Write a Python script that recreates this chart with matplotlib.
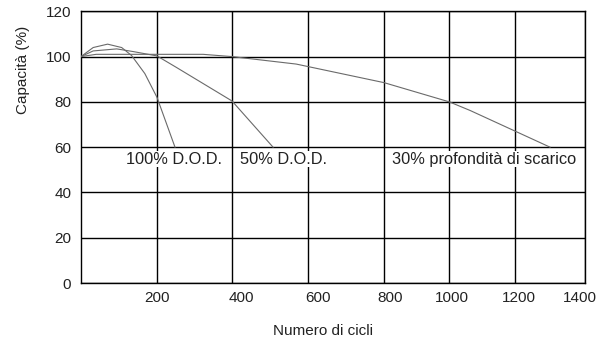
import numpy as np
import matplotlib
matplotlib.use("Agg")
import matplotlib.pyplot as plt
from matplotlib.transforms import ScaledTranslation

# cycles vs capacity
dod100_x = [0, 32, 70, 107, 133, 168, 200, 248]
dod100_y = [100, 104, 105.5, 104, 100.5, 92.5, 82, 60]

dod50_x = [0, 32, 94, 138, 200, 252, 400, 508]
dod50_y = [100, 102.5, 103.4, 102.2, 100.3, 95.2, 80.4, 60]

dod30_x = [0, 40, 323, 400, 569, 800, 1001, 1064, 1200, 1300]
dod30_y = [100, 101, 101, 100, 96.7, 88.5, 80, 76.2, 67.1, 60]

x_ticks = [0, 200, 400, 600, 800, 1000, 1200, 1400]
y_ticks = [0, 20, 40, 60, 80, 100, 120]

# the original x axis is not evenly spaced: where each gridline sits
grid_pos = [0, 76, 151, 227, 303, 368, 434, 504]
# the printed tick numbers are not centred on their gridlines (px)
label_shift = [0, 9, 10, 6, 3, 4, -5]


def fwd(x):
    return np.interp(x, x_ticks, grid_pos)


def inv(p):
    return np.interp(p, grid_pos, x_ticks)


plt.rcParams['font.family'] = ['Liberation Sans', 'DejaVu Sans']
txt = '#222222'

fig = plt.figure(figsize=(6.14, 3.47), dpi=100)
ax = fig.add_axes([0.1319, 0.1844, 0.8209, 0.783])

ax.set_xscale('function', functions=(fwd, inv))
ax.set_xlim(0, 1400)
ax.set_ylim(0, 120)

line_kw = dict(color='#6a6a6a', lw=0.8, zorder=3)
ax.plot(dod100_x, dod100_y, **line_kw)
ax.plot(dod50_x, dod50_y, **line_kw)
ax.plot(dod30_x, dod30_y, **line_kw)

ax.set_xticks(x_ticks[1:])
ax.set_xticklabels([str(v) for v in x_ticks[1:]])
ax.set_yticks(y_ticks)
ax.grid(True, color='black', lw=1.0)
ax.set_axisbelow(True)
for s in ax.spines.values():
    s.set_color('black')
    s.set_linewidth(1.0)
ax.tick_params(axis='both', length=0, labelsize=11, labelcolor=txt)
ax.tick_params(axis='x', pad=6)
ax.tick_params(axis='y', pad=7)

for lab, dx in zip(ax.get_xticklabels(), label_shift):
    lab.set_transform(lab.get_transform() +
                      ScaledTranslation(dx / 100, 0, fig.dpi_scale_trans))

# white boxes hide the vertical gridlines behind the labels
box = dict(facecolor='white', edgecolor='none', pad=0.3)
ax.text(118, 54.6, '100% D.O.D.', fontsize=11.8, color=txt, va='center',
        ha='left', bbox=box, zorder=4)
ax.text(420, 54.6, '50% D.O.D.', fontsize=11.8, color=txt, va='center',
        ha='left', bbox=box, zorder=4)
ax.text(825, 54.6, '30% profondità di scarico', fontsize=11.8, color=txt,
        va='center', ha='left', bbox=box, zorder=4)

ax.set_ylabel('Capacità (%)', fontsize=11, color=txt)
ax.yaxis.set_label_coords(-0.101, 0.783)
ax.set_xlabel('Numero di cicli', fontsize=11, color=txt)
ax.xaxis.set_label_coords(0.48, -0.151)

fig.savefig('out.png', dpi=100)
